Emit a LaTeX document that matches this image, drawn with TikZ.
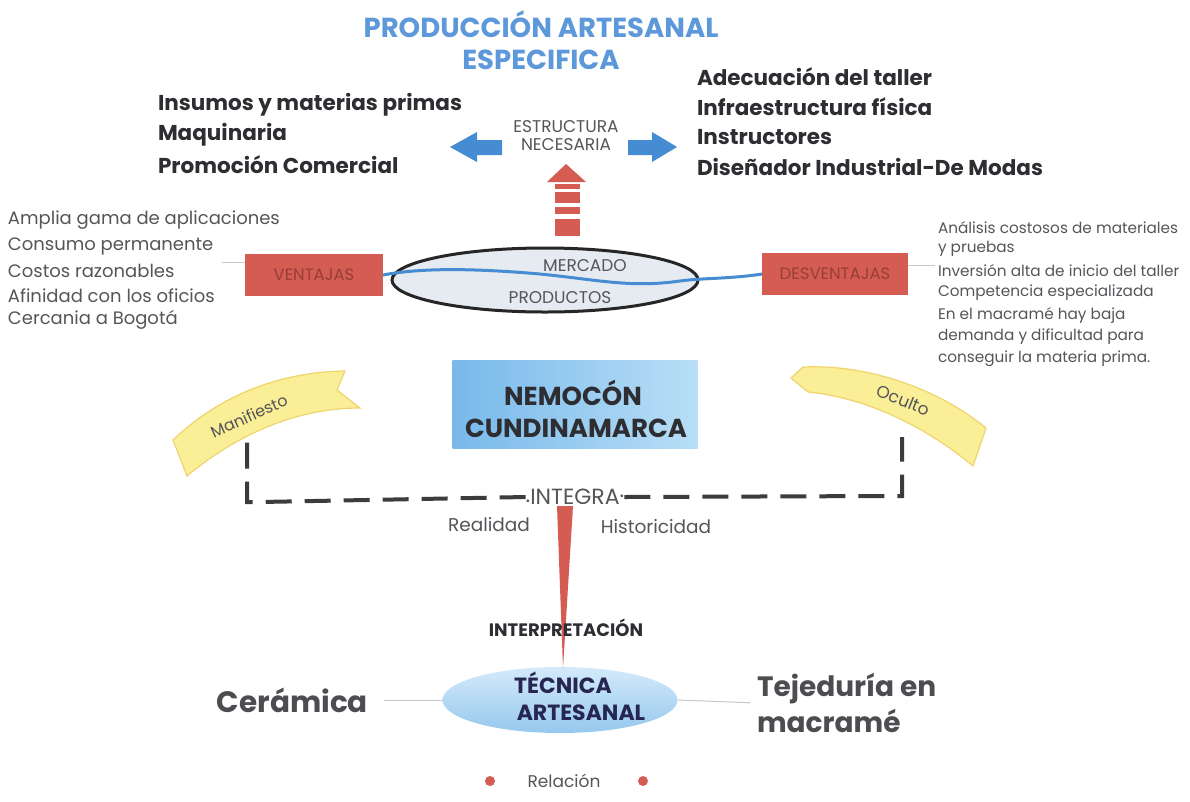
\documentclass[tikz,border=0pt]{standalone}
\usepackage{fontspec}
\setmainfont{Poppins}
\usetikzlibrary{shapes.geometric}
\definecolor{titleblue}{RGB}{92,152,218}
\definecolor{darktext}{RGB}{45,45,50}
\definecolor{graytext}{RGB}{85,85,90}
\definecolor{redbox}{RGB}{212,92,82}
\definecolor{redtext}{RGB}{150,62,56}
\definecolor{arrowblue}{RGB}{70,140,210}
\definecolor{ribbon}{RGB}{250,238,150}
\definecolor{ribbonedge}{RGB}{240,212,110}
\definecolor{ellfill}{RGB}{230,235,242}
\definecolor{nemA}{RGB}{120,185,235}
\definecolor{nemB}{RGB}{185,222,246}
\definecolor{tecA}{RGB}{212,234,250}
\definecolor{tecB}{RGB}{150,200,238}
\definecolor{dashgray}{RGB}{60,60,62}
\definecolor{thingray}{RGB}{200,200,200}
\tikzset{
  every node/.style={inner sep=0pt, outer sep=0pt},
  titletext/.style={font=\fontsize{27.5}{32}\selectfont\bfseries, text=titleblue},
  boldlist/.style={anchor=west, font=\fontsize{21.5}{25}\selectfont\bfseries, text=darktext},
  leftsmall/.style={anchor=west, font=\fontsize{18}{21}\selectfont, text=graytext},
  rightsmall/.style={anchor=west, font=\fontsize{15.3}{18}\selectfont, text=graytext},
  lighttext/.style={font=\fontsize{17}{19}\selectfont, text=graytext},
  redrect/.style={fill=redbox, minimum height=42pt, font=\fontsize{16.5}{19}\selectfont, text=redtext},
  bigtext/.style={font=\fontsize{29.5}{36}\selectfont\bfseries, text=darktext!85},
  wave/.style={draw=arrowblue, line width=3pt},
  thinline/.style={draw=thingray, line width=1pt},
  dashline/.style={draw=dashgray, line width=4pt, dash pattern=on 26pt off 13pt},
  ribbonshape/.style={fill=ribbon, draw=ribbonedge, line width=1.2pt},
}
\begin{document}
\begin{tikzpicture}[x=1pt,y=-1pt]
\fill[white] (0,0) rectangle (1190,801);
\useasboundingbox (0,0) rectangle (1190,801);

% Title
\node[titletext] (t1) at (541,24) {PRODUCCIÓN ARTESANAL};
\node[titletext] (t2) at (541,60) {ESPECIFICA};

% Top lists
\node[boldlist] (l1) at (158,105) {Insumos y materias primas};
\node[boldlist] (l2) at (158,135) {Maquinaria};
\node[boldlist] (l3) at (158,165) {Promoción Comercial};
\node[boldlist] (r1) at (697,77) {Adecuación del taller};
\node[boldlist] (r2) at (697,107) {Infraestructura física};
\node[boldlist] (r3) at (697,137) {Instructores};
\node[boldlist] (r4) at (697,167) {Diseñador Industrial-De Modas};

% Estructura necesaria
\node[font=\fontsize{17}{19}\selectfont, text=graytext] (estr) at (566,138) {\begin{tabular}{@{}c@{}}ESTRUCTURA\\[-1pt]NECESARIA\end{tabular}};

% blue block arrows
\fill[arrowblue] (450,147) -- (477,132) -- (477,140) -- (502,140) -- (502,155) -- (477,155) -- (477,162) -- cycle;
\fill[arrowblue] (677,147) -- (652,132) -- (652,140) -- (628,140) -- (628,155) -- (652,155) -- (652,162) -- cycle;

% red up arrow
\fill[redbox] (566,164) -- (586,182) -- (547,182) -- cycle;
\fill[redbox] (555,184) rectangle (580,189);
\fill[redbox] (555,192) rectangle (580,203);
\fill[redbox] (555,207) rectangle (580,214);
\fill[redbox] (555,219) rectangle (580,236);

% Mercado ellipse
\node[ellipse, draw=black!85, line width=3pt, fill=ellfill, minimum width=306pt, minimum height=64pt] (merc) at (545,280) {};
\node[lighttext] (mtx) at (585,266) {MERCADO};
\node[lighttext] (ptx) at (560,298) {PRODUCTOS};

% Ventajas / Desventajas
\node[redrect, minimum width=138pt] (vent) at (314,275) {VENTAJAS};
\node[redrect, minimum width=146pt] (desv) at (835,274) {DESVENTAJAS};

\draw[wave] (vent.east) .. controls (420,268) and (470,268) .. (540,274)
  .. controls (600,280) and (630,288) .. (680,281)
  .. controls (700,278) and (730,279) .. (desv.west);

% side lists
\node[leftsmall] (a1) at (8,220) {Amplia gama de aplicaciones};
\node[leftsmall] (a2) at (8,246) {Consumo permanente};
\node[leftsmall] (a3) at (8,271) {Costos razonables};
\node[leftsmall] (a4) at (8,296) {Afinidad con los oficios};
\node[leftsmall] (a5) at (8,320) {Cercania a Bogotá};
\coordinate (vl) at (222,262);
\draw[thinline] (vl) -- (vl -| vent.west);

\node[rightsmall] (b1) at (938,228) {Análisis costosos de materiales};
\node[rightsmall] (b2) at (938,249) {y pruebas};
\node[rightsmall] (b3) at (938,271) {Inversión alta de inicio del taller};
\node[rightsmall] (b4) at (938,293) {Competencia especializada};
\node[rightsmall] (b5) at (938,315) {En el macramé hay baja};
\node[rightsmall] (b6) at (938,337) {demanda y dificultad para};
\node[rightsmall] (b7) at (938,359) {conseguir la materia prima.};
\coordinate (dr) at (935,265);
\draw[thinline] (dr -| desv.east) -- (dr);

% Nemocon box
\node[left color=nemA, right color=nemB, minimum width=245pt, minimum height=88pt] (nem) at (575,404) {};
\node[font=\fontsize{26}{30}\selectfont\bfseries, text=darktext] (nem1) at (573,393) {NEMOCÓN};
\node[font=\fontsize{26}{30}\selectfont\bfseries, text=darktext] (nem2) at (576,428) {CUNDINAMARCA};

% Ribbons
\path[ribbonshape] (173,440) .. controls (220,395) and (280,372) .. (345,371)
  -- (337,390) -- (360,408) .. controls (290,408) and (230,440) .. (187,476) -- cycle;
\node[font=\fontsize{16}{19}\selectfont, text=graytext, rotate=24] (man) at (249,416) {Manifiesto};
\path[ribbonshape] (791,378) -- (803,367) .. controls (870,364) and (940,390) .. (986,428)
  -- (973,466) .. controls (930,430) and (870,398) .. (808,392) -- cycle;
\node[font=\fontsize{17}{19}\selectfont, text=graytext, rotate=-22] (ocu) at (903,400) {Oculto};

% Integra
\node[font=\fontsize{22}{24}\selectfont, text=graytext] (integ) at (575,497) {\raisebox{2pt}{.}INTEGRA\raisebox{7pt}{.}};
\node[font=\fontsize{18.5}{21}\selectfont, text=graytext] (real) at (489,525) {Realidad};
\node[font=\fontsize{18.5}{21}\selectfont, text=graytext] (hist) at (656,527) {Historicidad};

\draw[dashline] (integ.west) -- (260,502) -- (247,502) -- (247,436);
\draw[dashline] (integ.east) -- (890,496) -- (902,496) -- (902,437);

% Tecnica ellipse
\node[ellipse, top color=tecA, bottom color=tecB, minimum width=235pt, minimum height=66pt] (tec) at (560,700) {};
\fill[redbox] (557,506) -- (573,506) -- (563,668) -- cycle;
\node[font=\fontsize{18}{21}\selectfont\bfseries, text=darktext] (interp) at (566,628) {INTERPRETACIÓN};
\node[font=\fontsize{22}{25}\selectfont\bfseries, text=darktext!85!blue] (tec1) at (563,683) {TÉCNICA};
\node[font=\fontsize{22}{25}\selectfont\bfseries, text=darktext!85!blue] (tec2) at (581,713) {ARTESANAL};

\node[bigtext, anchor=east] (cer) at (368,700) {Cerámica};
\node[bigtext, anchor=west, align=left, font=\fontsize{28}{36}\selectfont\bfseries] (tej) at (757,703) {Tejeduría en\\macramé};
\draw[thinline, shorten <=16pt] (cer.east) -- (tec.west);
\draw[thinline, shorten >=7pt] (tec.east) -- (tej.west);

% legend
\fill[redbox] (490,781) circle (5pt);
\fill[redbox] (643,781) circle (5pt);
\node[font=\fontsize{17}{19}\selectfont, text=graytext] (rel) at (564,781) {Relación};
\end{tikzpicture}
\end{document}
